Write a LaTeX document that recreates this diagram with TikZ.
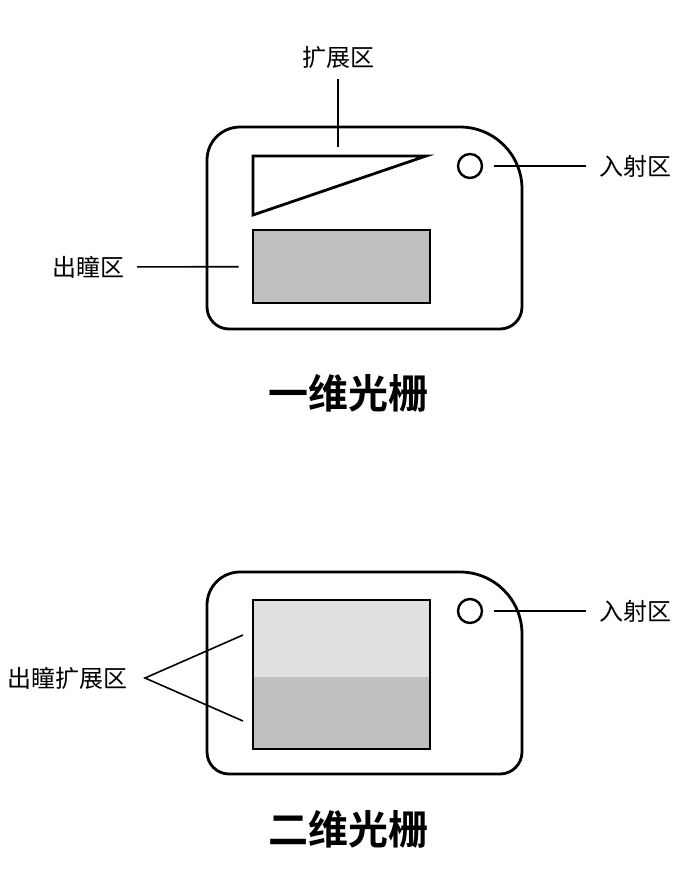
\documentclass[tikz,border=0pt]{standalone}
\usepackage{fontspec}
\newfontfamily\cjk{Noto Sans CJK SC}
\newfontfamily\cjkbold{Noto Sans CJK SC Bold}
\usetikzlibrary{positioning}
\definecolor{darkfill}{HTML}{C0C0C0}
\definecolor{lightfill}{HTML}{E0E0E0}
\tikzstyle{outline} = [line width=2.8pt, line join=round]
\tikzstyle{part} = [line width=2.8pt]
\tikzstyle{leader} = [line width=1.6pt]
\tikzstyle{zonetext} = [font=\cjk\fontsize{24}{28}\selectfont, inner sep=0pt]
\tikzstyle{titletext} = [font=\cjkbold\fontsize{40}{48}\selectfont, inner sep=0pt]
\tikzstyle{hole} = [draw, circle, line width=2.4pt, minimum size=24pt, inner sep=0pt]
\tikzstyle{window} = [part, draw, inner sep=0pt, minimum width=177pt]

\begin{document}
\begin{tikzpicture}[x=1pt, y=-1pt]
  \useasboundingbox (0,0) rectangle (680,883);

  % one-dimensional grating
  \draw[outline] (207,160) arc (180:270:33) -- (460,127) arc (270:360:62)
     -- (522,307) arc (0:90:22) -- (229,329) arc (90:180:22) -- cycle;
  \draw[part] (253,156) -- (426,156) -- (253,215) -- cycle;
  \node[window, fill=darkfill, minimum height=73pt] (pupil1) at (341.5,266.5) {};
  \node[hole] (in1) at (470,166) {};
  \coordinate (ext1) at (338,147);

  \node[zonetext] (extlbl) at (338,57) {扩展区};
  \node[zonetext, anchor=west] (inlbl1) at (599,166) {入射区};
  \node[zonetext, anchor=east] (pupillbl) at (125,267) {出瞳区};
  \node[titletext] (title1) at (348,393) {一维光栅};

  \draw[leader, shorten <=11pt] (extlbl) -- (ext1);
  \draw[leader, shorten <=11pt, shorten >=13pt] (in1) -- (inlbl1);
  \draw[leader, shorten <=12pt, shorten >=13pt] (pupillbl) -- (pupil1);

  % two-dimensional grating
  \draw[outline] (207,605) arc (180:270:33) -- (460,572) arc (270:360:62)
     -- (522,752) arc (0:90:22) -- (229,774) arc (90:180:22) -- cycle;
  \fill[lightfill] (253,600) rectangle (430,677);
  \fill[darkfill] (253,677) rectangle (430,749);
  \node[window, minimum height=149pt] (pupil2) at (341.5,674.5) {};
  \node[hole] (in2) at (470,611) {};
  \coordinate (peup) at (243,635);
  \coordinate (pedown) at (243,721);

  \node[zonetext, anchor=west] (inlbl2) at (599,611) {入射区};
  \node[zonetext, anchor=east] (pelbl) at (128,678) {出瞳扩展区};
  \node[titletext] (title2) at (348,829) {二维光栅};

  \draw[leader, shorten <=11pt, shorten >=13pt] (in2) -- (inlbl2);
  \draw[leader] (peup) -- ([xshift=17pt]pelbl.east) -- (pedown);
\end{tikzpicture}
\end{document}
